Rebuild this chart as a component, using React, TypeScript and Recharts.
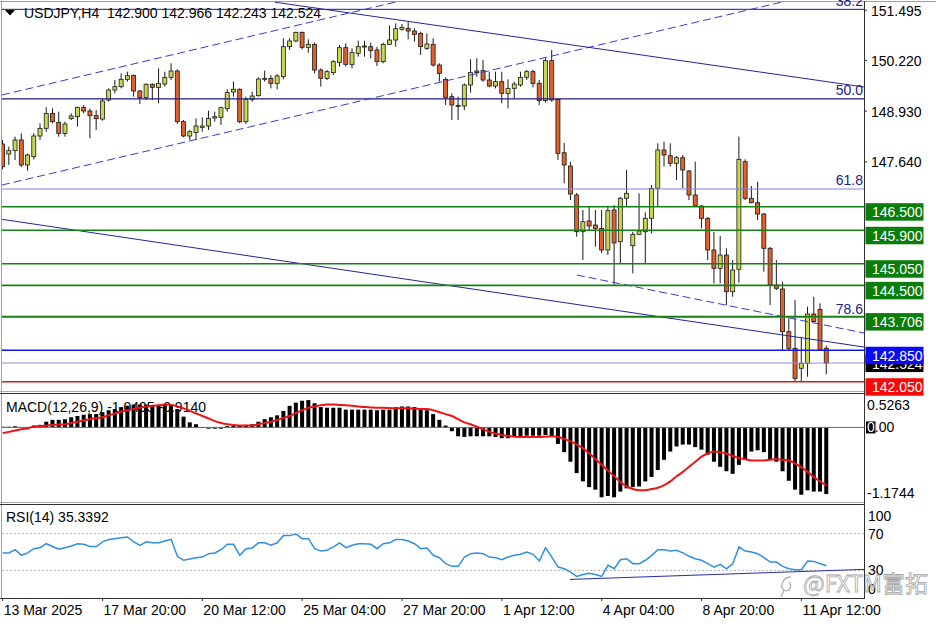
import React from 'react';
import { Bar, ComposedChart, Line, ReferenceLine, XAxis, YAxis } from 'recharts';

const FONT = "'Liberation Sans', Arial, sans-serif";
const W = 936;
const AXIS_W = 72;
const AXIS_X = 864;
const X_DOMAIN: [number, number] = [-0.11, 138.03];
const PRICE_DOMAIN: [number, number] = [141.814, 151.704];
const MACD_DOMAIN: [number, number] = [-1.1744, 0.5263];

const BULL = '#c9d64f';
const BEAR = '#e2602b';

// H4 bars, 13 Mar 2025 -> 11 Apr 2025
const OPEN = [
  148.094, 147.839, 147.924, 148.196, 147.56, 147.771, 148.297, 148.492, 148.873, 148.645,
  148.365, 148.738, 148.789, 149.026, 148.933, 148.814, 148.729, 149.212, 149.467, 149.551,
  149.738, 149.84, 149.441, 149.272, 149.611, 149.534, 149.619, 149.789, 149.95, 148.662,
  148.297, 148.382, 148.517, 148.551, 148.755, 148.772, 148.992, 149.416, 149.484, 148.662,
  149.229, 149.323, 149.738, 149.763, 149.636, 149.806, 150.568, 150.713, 150.933, 150.551,
  150.628, 149.975, 149.763, 149.907, 150.17, 150.543, 150.119, 150.399, 150.568, 150.568,
  150.484, 150.187, 150.628, 150.738, 151.009, 151.035, 150.967, 150.907, 150.526, 150.628,
  150.102, 149.738, 149.297, 149.077, 149.06, 149.594, 149.95, 149.958, 149.721, 149.568,
  149.679, 149.382, 149.509, 149.594, 149.789, 149.933, 149.636, 149.196, 150.213, 149.229,
  147.872, 147.534, 146.797, 145.864, 146.136, 146.034, 145.95, 145.399, 146.416, 145.61,
  146.713, 145.508, 145.797, 145.864, 146.204, 146.967, 147.941, 147.796, 147.603, 147.745,
  147.407, 146.797, 146.517, 146.204, 145.399, 144.933, 145.271, 144.338, 144.908, 147.644,
  146.713, 146.601, 146.314, 145.442, 144.509, 144.407, 143.321, 142.899, 142.391, 142.518,
  143.771, 143.891, 142.9,
];
const HIGH = [
  148.196, 148.026, 148.28, 148.365, 147.85, 148.365, 148.619, 149.026, 149.0, 148.916,
  148.662, 148.873, 149.043, 149.085, 149.0, 148.958, 149.255, 149.509, 149.721, 149.89,
  149.933, 149.857, 149.467, 149.636, 149.636, 150.018, 149.933, 150.145, 149.992, 148.704,
  148.45, 148.746, 148.772, 148.941, 148.916, 149.043, 149.484, 149.679, 149.509, 149.297,
  149.424, 149.789, 149.958, 149.848, 149.873, 150.78, 150.78, 150.95, 150.95, 150.755,
  150.67, 150.018, 149.975, 150.229, 150.611, 150.653, 150.526, 150.721, 150.721, 150.67,
  150.568, 150.67, 151.111, 151.162, 151.145, 151.204, 151.035, 150.95, 150.907, 150.78,
  150.145, 149.789, 149.382, 149.297, 149.636, 150.246, 150.272, 150.229, 149.933, 149.933,
  149.933, 149.738, 149.679, 149.933, 149.975, 149.975, 149.721, 150.272, 150.484, 149.255,
  148.119, 147.644, 146.85, 146.416, 146.5, 146.416, 146.416, 146.5, 146.543, 146.746,
  147.433, 145.864, 146.84, 146.357, 147.051, 148.111, 148.152, 148.111, 147.788, 147.814,
  147.433, 147.644, 146.543, 146.238, 145.864, 145.754, 145.442, 145.144, 148.279, 147.705,
  147.026, 147.135, 146.339, 145.475, 145.144, 144.592, 143.662, 144.127, 143.194, 143.957,
  144.211, 144.043, 142.966,
];
const LOW = [
  147.45, 147.56, 147.687, 147.509, 147.415, 147.7, 148.196, 148.407, 148.619, 148.28,
  148.28, 148.704, 148.534, 148.873, 148.238, 148.45, 148.687, 149.17, 149.382, 149.509,
  149.679, 149.297, 149.111, 149.212, 149.212, 149.128, 149.551, 149.721, 148.602, 148.263,
  148.196, 148.196, 148.407, 148.45, 148.662, 148.577, 148.916, 149.297, 148.619, 148.602,
  149.17, 149.297, 149.679, 149.509, 149.484, 149.738, 150.484, 150.679, 150.501, 150.416,
  149.89, 149.551, 149.721, 149.848, 150.06, 150.06, 150.018, 150.314, 150.314, 150.272,
  150.077, 150.145, 150.611, 150.568, 150.975, 150.755, 150.696, 150.357, 150.484, 150.06,
  149.679, 149.085, 148.704, 148.704, 148.958, 149.399, 149.806, 149.679, 149.534, 149.509,
  149.128, 149.0, 149.255, 149.551, 149.721, 149.534, 149.085, 149.145, 149.17, 147.687,
  147.094, 146.67, 145.737, 145.144, 145.907, 145.482, 145.322, 145.271, 144.509, 145.06,
  146.5, 144.806, 145.78, 145.06, 145.823, 146.5, 147.517, 147.517, 147.178, 146.967,
  146.67, 146.492, 145.95, 145.144, 144.552, 144.552, 143.999, 144.211, 144.567, 146.67,
  146.586, 146.161, 144.847, 143.999, 144.382, 142.856, 142.856, 142.05, 142.05, 142.177,
  143.575, 142.856, 142.243,
];
const CLOSE = [
  147.517, 147.924, 148.196, 147.56, 147.814, 148.297, 148.492, 148.873, 148.662, 148.365,
  148.602, 148.806, 149.026, 148.933, 148.814, 148.738, 149.187, 149.467, 149.551, 149.738,
  149.831, 149.441, 149.272, 149.611, 149.534, 149.636, 149.789, 149.95, 148.662, 148.297,
  148.407, 148.551, 148.551, 148.746, 148.789, 149.017, 149.399, 149.484, 148.662, 149.229,
  149.314, 149.746, 149.763, 149.636, 149.823, 150.568, 150.713, 150.933, 150.551, 150.628,
  149.975, 149.763, 149.933, 150.187, 150.543, 150.119, 150.416, 150.568, 150.585, 150.467,
  150.187, 150.628, 150.738, 151.026, 151.06, 150.967, 150.882, 150.568, 150.636, 150.102,
  149.89, 149.28, 149.085, 149.051, 149.594, 149.907, 149.907, 149.721, 149.568, 149.679,
  149.382, 149.509, 149.619, 149.789, 149.933, 149.636, 149.196, 150.213, 149.212, 147.857,
  147.56, 146.822, 145.864, 146.118, 146.009, 145.95, 145.399, 146.398, 145.577, 146.713,
  146.84, 145.797, 145.882, 146.204, 146.967, 147.941, 147.814, 147.603, 147.745, 147.433,
  146.797, 146.517, 146.204, 145.399, 144.933, 145.271, 144.338, 144.89, 147.705, 146.713,
  146.601, 146.314, 145.442, 144.509, 144.425, 143.321, 142.899, 142.136, 142.518, 143.771,
  143.575, 142.856, 142.524,
];

const MACD_HIST = [
  0.01, 0.01, 0.02, 0.0, -0.03, 0.03, 0.04, 0.09, 0.12, 0.12,
  0.13, 0.16, 0.18, 0.2, 0.21, 0.21, 0.24, 0.27, 0.29, 0.32,
  0.34, 0.36, 0.36, 0.36, 0.34, 0.34, 0.36, 0.36, 0.29, 0.17,
  0.08, 0.05, -0.01, -0.02, -0.02, -0.02, 0.02, 0.03, 0.03, 0.04,
  0.05, 0.09, 0.13, 0.16, 0.19, 0.26, 0.34, 0.39, 0.42, 0.43,
  0.38, 0.32, 0.31, 0.31, 0.31, 0.28, 0.28, 0.28, 0.28, 0.28,
  0.27, 0.28, 0.28, 0.32, 0.33, 0.33, 0.32, 0.29, 0.27, 0.21,
  0.12, 0.03, -0.06, -0.14, -0.15, -0.14, -0.14, -0.14, -0.14, -0.15,
  -0.17, -0.17, -0.15, -0.14, -0.13, -0.13, -0.13, -0.12, -0.14, -0.26,
  -0.39, -0.54, -0.72, -0.85, -0.94, -0.98, -1.1, -1.08, -1.1, -1.01,
  -0.96, -0.94, -0.93, -0.85, -0.78, -0.67, -0.51, -0.38, -0.3, -0.27,
  -0.27, -0.31, -0.35, -0.43, -0.54, -0.62, -0.69, -0.73, -0.59, -0.51,
  -0.38, -0.36, -0.39, -0.5, -0.54, -0.69, -0.84, -0.98, -1.06, -0.99,
  -1.01, -1.01, -1.0495,
];
const MACD_SIGNAL = [
  -0.09, -0.07, -0.05, -0.03, -0.01, 0.01, 0.02, 0.03, 0.04, 0.045,
  0.05, 0.07, 0.09, 0.11, 0.13, 0.145, 0.16, 0.19, 0.22, 0.25,
  0.27, 0.29, 0.31, 0.33, 0.34, 0.35, 0.36, 0.355, 0.33, 0.3,
  0.26, 0.22, 0.18, 0.14, 0.1, 0.07, 0.05, 0.04, 0.03, 0.03,
  0.03, 0.05, 0.07, 0.09, 0.12, 0.15, 0.18, 0.23, 0.27, 0.31,
  0.33, 0.35, 0.36, 0.36, 0.355, 0.35, 0.34, 0.33, 0.32, 0.315,
  0.31, 0.31, 0.305, 0.3, 0.3, 0.3, 0.295, 0.29, 0.29, 0.27,
  0.24, 0.21, 0.18, 0.13, 0.08, 0.05, 0.01, -0.03, -0.07, -0.1,
  -0.12, -0.135, -0.145, -0.15, -0.15, -0.15, -0.15, -0.145, -0.14, -0.15,
  -0.18, -0.22, -0.27, -0.33, -0.41, -0.5, -0.59, -0.68, -0.77, -0.86,
  -0.93, -0.97, -0.99, -0.99, -0.97, -0.95, -0.91, -0.85, -0.77, -0.7,
  -0.62, -0.54, -0.46, -0.41, -0.38, -0.39, -0.41, -0.45, -0.48, -0.5,
  -0.52, -0.52, -0.52, -0.51, -0.5, -0.51, -0.52, -0.57, -0.63, -0.7,
  -0.78, -0.85, -0.914,
];
const RSI = [
  48.9, 49, 52.5, 46.4, 49, 53.6, 54.7, 59, 56, 53,
  54.7, 56.5, 59, 58.4, 56, 56, 61, 63.5, 64.5, 65.6,
  66.4, 61, 57.3, 61, 60, 60, 62, 63.8, 45.3, 41,
  42.4, 43.8, 44.5, 48.2, 49, 52.5, 58.4, 58.4, 46.4, 53.6,
  54.4, 60, 60, 57.3, 60, 67.8, 67.8, 69.6, 64.5, 64.5,
  53.6, 51, 51.8, 55.5, 60, 54.7, 57.3, 59, 59, 58.4,
  53.6, 59, 60, 63.5, 63.5, 62, 59, 53.6, 54.4, 46.4,
  43.8, 37.3, 34.4, 34.4, 44.5, 48.2, 49, 48.2, 44.5, 43.8,
  41.6, 44.5, 46.4, 47.5, 50, 47.5, 40.2, 54.7, 44.5, 33.6,
  31.8, 28.2, 23.5, 25.6, 27, 25.6, 23.5, 35.5, 31.8, 41.6,
  42.7, 37.3, 37.3, 41, 46.4, 52.5, 52.5, 51, 51.8, 49,
  45.3, 42.7, 41, 37.3, 33.6, 36.5, 31.8, 37.3, 55.5, 51,
  50, 48.2, 43.8, 39, 39, 34.4, 31.8, 30.7, 30.7, 40.2,
  39.8, 37.3, 35.34,
];

const PRICE_TICKS = [151.495, 150.22, 148.93, 147.64];
const MACD_TICKS = [0.5263, 0, -1.1744];
const RSI_TICKS = [100, 70, 30, 0];
const DATE_TICKS = [0, 16, 32, 48, 64, 80, 96, 112, 128];
const DATE_LABELS = [
  '13 Mar 2025', '17 Mar 20:00', '20 Mar 12:00', '25 Mar 04:00', '27 Mar 20:00',
  '1 Apr 12:00', '4 Apr 04:00', '8 Apr 20:00', '11 Apr 12:00',
];

// fibonacci levels (price, label)
const FIB_PRICES = [151.518, 149.24, 146.95, 143.69];
const FIB_LABELS = ['38.2', '50.0', '61.8', '78.6'];
const FIB_COLORS = ['#1c1c86', '#1c1c86', '#8282de', '#8282de'];

// trend lines: [bar, price] pairs
const TREND_LINES = [
  { from: [-0.11, 149.34], to: [62.9, 151.7], dashed: true },
  { from: [-0.11, 147.051], to: [124.8, 151.7], dashed: true },
  { from: [43.6, 151.7], to: [138.03, 149.543], dashed: false },
  { from: [-0.11, 146.179], to: [138.03, 142.932], dashed: false },
  { from: [92.0, 144.763], to: [138.03, 143.288], dashed: true },
];
const RSI_TREND = [[90.9, 20.2], [138.03, 31.1]];

// horizontal levels with their price boxes
const GREEN_LEVELS = [146.5, 145.9, 145.05, 144.5, 143.706];
const BLUE_LEVEL = 142.85;
const BID = 142.524;
const RED_LEVEL = 142.05;

const rows = OPEN.map((open, i) => ({
  i,
  open,
  high: HIGH[i],
  low: LOW[i],
  close: CLOSE[i],
  hist: MACD_HIST[i],
  signal: MACD_SIGNAL[i],
  rsi: RSI[i],
}));

const Candle = (props: any) => {
  const { x, y, width, height, payload } = props;
  if (!payload || height == null) return null;
  const { open, close, high, low } = payload;
  const top = Math.min(y, y + height);
  const h = Math.abs(height);
  const ppu = h / (high - low || 1);
  const py = (p: number) => top + (high - p) * ppu;
  const cx = x + width / 2;
  const bTop = py(Math.max(open, close));
  const bBot = py(Math.min(open, close));
  return (
    <g>
      <line x1={cx} x2={cx} y1={top} y2={top + h} stroke='#1a1a1a' strokeWidth={1} />
      <rect
        x={cx - 2}
        y={bTop}
        width={4}
        height={Math.max(1, bBot - bTop)}
        fill={close >= open ? BULL : BEAR}
        stroke='#1a1a1a'
        strokeWidth={0.8}
      />
    </g>
  );
};

const vy = (p: any) => (p && p.viewBox ? p.viewBox.y : 0);

const priceBox = (fill: string, text: string, centered = false) => (p: any) => {
  const y = vy(p);
  const top = centered ? y - 8.5 : y - 3.5;
  const base = centered ? y + 5.5 : y + 10.5;
  return (
    <g>
      <rect x={AXIS_X + 1.5} y={top} width={58} height={17.5} fill={fill} />
      <text x={AXIS_X + 8} y={base} fill='#fff' fontSize={14} fontFamily={FONT}>
        {text}
      </text>
    </g>
  );
};

const fibLabel = (text: string) => (p: any) => (
  <text x={AXIS_X - 1} y={vy(p) - 3.5} textAnchor='end' fill='#20208a' fontSize={14} fontFamily={FONT}>
    {text}
  </text>
);

const PriceTick = (props: any) => {
  const { x, y, payload } = props;
  return (
    <text x={x} y={y + 5.5} fill='#000' fontSize={14} fontFamily={FONT}>
      {Number(payload.value).toFixed(3)}
    </text>
  );
};

const MacdTick = (props: any) => {
  const { x, y, payload } = props;
  const v = payload.value;
  if (v === 0) {
    return (
      <g>
        <rect x={x - 1} y={y - 6} width={9.5} height={12} fill='#000' />
        <text x={x} y={y + 5} fontSize={14} fontFamily={FONT}>
          <tspan fill='#fff'>0</tspan>
          <tspan fill='#000'>.00</tspan>
        </text>
      </g>
    );
  }
  return (
    <text x={x} y={v > 0 ? y + 16 : y - 3.7} fill='#000' fontSize={14} fontFamily={FONT}>
      {v.toFixed(4)}
    </text>
  );
};

const RsiTick = (props: any) => {
  const { x, y, payload } = props;
  const v = payload.value;
  const dy = v === 100 ? 14.7 : v === 0 ? -4 : 5;
  return (
    <text x={x + 1} y={y + dy} fill='#000' fontSize={14} fontFamily={FONT}>
      {v}
    </text>
  );
};

const DateTick = (props: any) => {
  const { x, y, payload } = props;
  const k = DATE_TICKS.indexOf(payload.value);
  return (
    <text x={x + 1} y={y + 11.5} fill='#000' fontSize={14} fontFamily={FONT}>
      {DATE_LABELS[k]}
    </text>
  );
};

export default function App() {
  return (
    <div style={{ position: 'absolute', left: 0, top: 0, width: W, height: 624, background: '#fff', overflow: 'hidden' }}>
      {/* frames and panel titles */}
      <svg width={W} height={624} style={{ position: 'absolute', left: 0, top: 0 }}>
        <line x1={0} x2={W} y1={1.5} y2={1.5} stroke='#a0a0a0' />
        <line x1={1.5} x2={1.5} y1={1} y2={599} stroke='#a0a0a0' />
        <line x1={0} x2={AXIS_X} y1={391.5} y2={391.5} stroke='#a8a8a8' />
        <line x1={0} x2={AXIS_X} y1={393.5} y2={393.5} stroke='#303030' />
        <line x1={0} x2={AXIS_X} y1={502.5} y2={502.5} stroke='#a8a8a8' />
        <line x1={0} x2={AXIS_X} y1={504.5} y2={504.5} stroke='#303030' />
        <line x1={0} x2={AXIS_X + 0.5} y1={598.5} y2={598.5} stroke='#303030' />
        <line x1={AXIS_X + 0.5} x2={AXIS_X + 0.5} y1={1} y2={599} stroke='#303030' />
        <polygon points='5,10 15,10 10,15.5' fill='#000' />
        <text x={24} y={18.3} fontSize={14} fontFamily={FONT} fill='#000'>USDJPY,H4</text>
        <text x={107} y={18.3} fontSize={14} fontFamily={FONT} fill='#000'>
          142.900 142.966 142.243 142.524
        </text>
        <text x={6} y={411.7} fontSize={14} fontFamily={FONT} fill='#000'>
          MACD(12,26,9) -1.0495 -0.9140
        </text>
        <text x={6} y={521.7} fontSize={14} fontFamily={FONT} fill='#000'>
          RSI(14) 35.3392
        </text>
      </svg>

      {/* price panel */}
      <div style={{ position: 'absolute', left: 0, top: 0 }}>
        <ComposedChart width={W} height={397} data={rows} margin={{ top: 2, right: 0, bottom: 6, left: 2 }}>
          <XAxis dataKey='i' type='number' domain={X_DOMAIN} allowDataOverflow hide />
          <YAxis
            orientation='right'
            width={AXIS_W}
            domain={PRICE_DOMAIN}
            allowDataOverflow
            ticks={PRICE_TICKS}
            interval={0}
            axisLine={false}
            tickLine={{ stroke: '#303030' }}
            tickSize={3}
            tickMargin={4}
            tick={<PriceTick />}
          />
          <Bar
            dataKey={(d: any) => [d.low, d.high]}
            barSize={6}
            shape={(p: any) => <Candle {...p} />}
            isAnimationActive={false}
          />
          {FIB_PRICES.map((p, k) => (
            <ReferenceLine
              key={'fib' + k}
              y={p}
              stroke={FIB_COLORS[k]}
              strokeWidth={k === 1 ? 1.3 : 1}
              ifOverflow='visible'
              label={fibLabel(FIB_LABELS[k])}
            />
          ))}
          {TREND_LINES.map((t, k) => (
            <ReferenceLine
              key={'tr' + k}
              segment={[
                { x: t.from[0], y: t.from[1] },
                { x: t.to[0], y: t.to[1] },
              ]}
              stroke={t.dashed ? '#3a3ad0' : '#24249c'}
              strokeWidth={1}
              strokeDasharray={t.dashed ? '8 4' : undefined}
              ifOverflow='visible'
            />
          ))}
          {GREEN_LEVELS.map((p) => (
            <ReferenceLine
              key={'g' + p}
              y={p}
              stroke='#138213'
              strokeWidth={1.6}
              ifOverflow='visible'
              label={priceBox('#0b7d0b', p.toFixed(3))}
            />
          ))}
          <ReferenceLine y={BID} stroke='#9393d4' strokeWidth={1} ifOverflow='visible' label={priceBox('#000', BID.toFixed(3), true)} />
          <ReferenceLine y={BLUE_LEVEL} stroke='#1414e0' strokeWidth={1.6} ifOverflow='visible' label={priceBox('#0a0af5', BLUE_LEVEL.toFixed(3))} />
          <ReferenceLine y={RED_LEVEL} stroke='#e01414' strokeWidth={1.6} ifOverflow='visible' label={priceBox('#f50a0a', RED_LEVEL.toFixed(3))} />
        </ComposedChart>
      </div>

      {/* MACD panel */}
      <div style={{ position: 'absolute', left: 0, top: 394 }}>
        <ComposedChart width={W} height={108} data={rows} margin={{ top: 0, right: 0, bottom: 0, left: 2 }}>
          <XAxis dataKey='i' type='number' domain={X_DOMAIN} allowDataOverflow hide />
          <YAxis
            orientation='right'
            width={AXIS_W}
            domain={MACD_DOMAIN}
            allowDataOverflow
            ticks={MACD_TICKS}
            interval={0}
            axisLine={false}
            tickLine={false}
            tickSize={3}
            tickMargin={0}
            tick={<MacdTick />}
          />
          <ReferenceLine y={0} stroke='#6a6a6a' strokeWidth={1} />
          <Bar dataKey='hist' barSize={4} fill='#000' isAnimationActive={false} />
          <Line
            dataKey='signal'
            type='monotone'
            stroke='#ee1414'
            strokeWidth={2}
            dot={false}
            isAnimationActive={false}
          />
        </ComposedChart>
      </div>

      {/* RSI panel + time axis */}
      <div style={{ position: 'absolute', left: 0, top: 504 }}>
        <ComposedChart width={W} height={120} data={rows} margin={{ top: 2, right: 0, bottom: 0, left: 2 }}>
          <XAxis
            dataKey='i'
            type='number'
            domain={X_DOMAIN}
            allowDataOverflow
            ticks={DATE_TICKS}
            interval={0}
            height={26}
            axisLine={false}
            tickLine={{ stroke: '#303030' }}
            tickSize={3}
            tickMargin={2}
            tick={<DateTick />}
          />
          <YAxis
            orientation='right'
            width={AXIS_W}
            domain={[0, 100]}
            allowDataOverflow
            ticks={RSI_TICKS}
            interval={0}
            axisLine={false}
            tickLine={false}
            tickSize={3}
            tickMargin={0}
            tick={<RsiTick />}
          />
          <ReferenceLine y={70} stroke='#b4b4b4' strokeDasharray='2 2' />
          <ReferenceLine y={30} stroke='#b4b4b4' strokeDasharray='2 2' />
          <ReferenceLine
            segment={[
              { x: RSI_TREND[0][0], y: RSI_TREND[0][1] },
              { x: RSI_TREND[1][0], y: RSI_TREND[1][1] },
            ]}
            stroke='#2a2aa8'
            strokeWidth={1}
            ifOverflow='visible'
          />
          <Line
            dataKey='rsi'
            type='linear'
            stroke='#2f8fe3'
            strokeWidth={1.5}
            dot={false}
            isAnimationActive={false}
          />
        </ComposedChart>
      </div>

      {/* watermark */}
      <svg width={W} height={624} style={{ position: 'absolute', left: 0, top: 0, pointerEvents: 'none' }}>
        <path
          d='M791,577 C783,577 779,586 784,590 C788,593 793,587 789,582 M784,590 L781,597'
          fill='none'
          stroke='#b0b0b0'
          strokeWidth={1.3}
        />
        <text
          x={803}
          y={592}
          fontSize={23}
          fontFamily="'Noto Sans CJK SC', 'Noto Sans', sans-serif"
          fill='#ffffff'
          fillOpacity={0.55}
          stroke='#a6a6a6'
          strokeWidth={0.8}
        >
          @FXTM富拓
        </text>
      </svg>
    </div>
  );
}
